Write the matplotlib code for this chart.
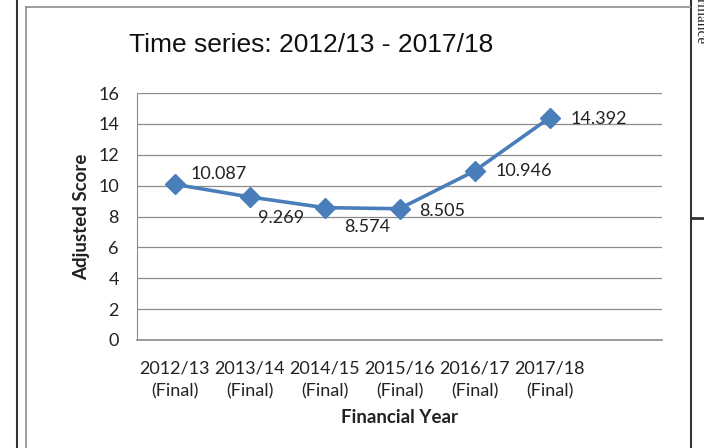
import matplotlib
matplotlib.use("Agg")
import matplotlib.pyplot as plt
from matplotlib.lines import Line2D

# Data
years = ["2012/13", "2013/14", "2014/15", "2015/16", "2016/17", "2017/18"]
status = ["(Final)"] * 6
scores = [10.087, 9.269, 8.574, 8.505, 10.946, 14.392]
y_ticks = [0, 2, 4, 6, 8, 10, 12, 14, 16]

W, H = 704, 448
fig = plt.figure(figsize=(W / 100, H / 100), dpi=100)
fig.patch.set_facecolor("white")

def fx(px):
    return px / W

def fy(py):
    return 1 - py / H

# page frame lines around the chart
fig.add_artist(Line2D([fx(17), fx(17)], [0, 1], color="#333333", lw=1.5))
fig.add_artist(Line2D([fx(690.5), fx(690.5)], [0, 1], color="#333333", lw=1.5))
fig.add_artist(Line2D([fx(690.5), 1], [fy(218), fy(218)], color="#333333", lw=2))
fig.add_artist(Line2D([fx(26), fx(26)], [0, fy(7)], color="#8c8c8c", lw=1.2))
fig.add_artist(Line2D([fx(26), fx(690)], [fy(7), fy(7)], color="#8c8c8c", lw=1.2))
fig.text(fx(700), fy(44), "Performance", rotation=-90, fontsize=11,
         family="Liberation Serif", va="bottom", ha="center", color="#222222")

# plot area
left, right, top, bottom = 137, 662, 93, 340
ax = fig.add_axes([fx(left), fy(bottom), fx(right - left), (bottom - top) / H])

x = list(range(len(years)))
ax.plot(x, scores, color="#4a7ebb", lw=2.6, marker="D", markersize=10.5,
        markerfacecolor="#4a7ebb", markeredgecolor="#4a7ebb", zorder=3)

ax.set_xlim(-0.5, 6.5)
ax.set_ylim(0, 16)
ax.set_yticks(y_ticks)
ax.set_yticklabels([str(t) for t in y_ticks])
ax.set_xticks(x)
ax.set_xticklabels([f"{a}\n{b}" for a, b in zip(years, status)])

label_font = dict(family="Lato", fontsize=13, color="#222222")
offsets = [(11.5, 7.5), (5.8, -15), (14.4, -13.7), (14.4, -1.4), (15, 0), (15, -1)]
for xi, (v, off) in enumerate(zip(scores, offsets)):
    ax.annotate(f"{v:.3f}", (xi, v), xytext=off, textcoords="offset points",
                ha="left", va="center", **label_font)

ax.grid(axis="y", color="#8c8c8c", lw=0.9)
ax.set_axisbelow(True)
for s in ["top", "right"]:
    ax.spines[s].set_visible(False)
ax.spines["left"].set_color("#8c8c8c")
ax.spines["bottom"].set_color("#8c8c8c")
ax.spines["bottom"].set_linewidth(1.2)
ax.tick_params(axis="both", length=0, labelsize=13, colors="#222222")
ax.tick_params(axis="y", pad=13)
ax.tick_params(axis="x", pad=14.5)
for lab in ax.get_xticklabels() + ax.get_yticklabels():
    lab.set_family("Lato")
for lab in ax.get_xticklabels():
    lab.set_linespacing(1.55)

ax.set_ylabel("Adjusted Score", family="Lato", fontweight="bold", fontsize=13.5,
              color="#222222", labelpad=6)
ax.set_xlabel("Financial Year", family="Lato", fontweight="bold", fontsize=13.5,
              color="#222222", labelpad=7)

fig.text(fx(311), fy(45), "Time series: 2012/13 - 2017/18", family="Liberation Sans",
         fontsize=19, ha="center", va="center", color="#111111")

fig.savefig("out.png", dpi=100)
